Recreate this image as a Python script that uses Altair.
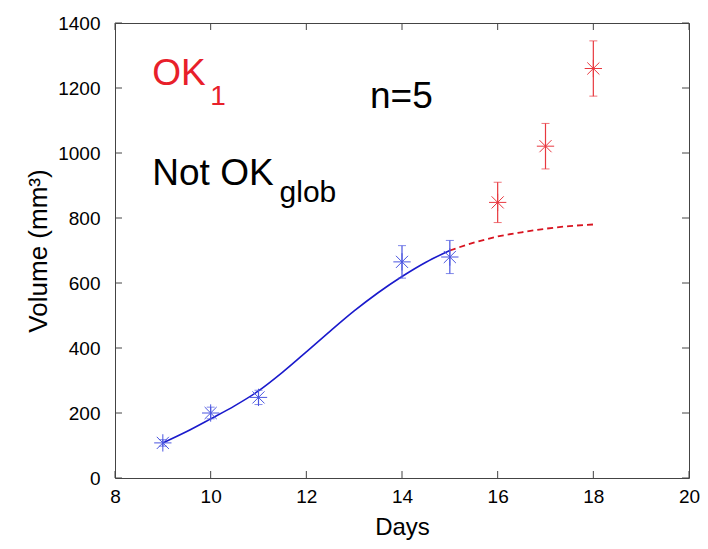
import altair as alt
import pandas as pd

# ---- data ----
blue_days = [9, 10, 11, 14, 15]
blue_vol = [108, 200, 248, 665, 680]
blue_err = [10, 18, 22, 50, 51]

red_days = [16, 17, 18]
red_vol = [848, 1021, 1260]
red_err = [62, 70, 85]

fit_days = [9, 9.5, 10, 10.5, 11, 11.5, 12, 12.5, 13, 13.5, 14, 14.5, 15]
fit_vol = [108, 143, 182, 222, 268, 325, 388, 452, 514, 570, 620, 664, 700]

pred_days = [15, 15.5, 16, 16.5, 17, 17.5, 18]
pred_vol = [700, 724, 743, 756, 767, 775, 780]

x_ticks = [8, 10, 12, 14, 16, 18, 20]
y_ticks = [0, 200, 400, 600, 800, 1000, 1200, 1400]

ann_text = ["OK", "1", "n=5", "Not OK", "glob"]
ann_x = [8.78, 9.99, 13.33, 8.78, 11.44]
ann_y = [1208, 1148, 1138, 903, 848]
ann_color = ["#e8202a", "#e8202a", "black", "black", "black"]
ann_size = [37, 28, 37, 37, 30]

W, H = 574, 455
FONT = "Liberation Sans"
STAR = "M-1,0L1,0M0,-1L0,1M-0.7,-0.7L0.7,0.7M-0.7,0.7L0.7,-0.7"

blue = pd.DataFrame({"d": blue_days, "v": blue_vol,
                     "lo": [v - e for v, e in zip(blue_vol, blue_err)],
                     "hi": [v + e for v, e in zip(blue_vol, blue_err)]})
red = pd.DataFrame({"d": red_days, "v": red_vol,
                    "lo": [v - e for v, e in zip(red_vol, red_err)],
                    "hi": [v + e for v, e in zip(red_vol, red_err)]})
fit = pd.DataFrame({"d": fit_days, "v": fit_vol})
pred = pd.DataFrame({"d": pred_days, "v": pred_vol})
ann = pd.DataFrame({"t": ann_text, "d": ann_x, "v": ann_y,
                    "c": ann_color, "s": ann_size})
xt = pd.DataFrame({"d": x_ticks})
yt = pd.DataFrame({"v": y_ticks})

xs = alt.Scale(domain=[8, 20], nice=False, zero=False)
ys = alt.Scale(domain=[0, 1400], nice=False)

X = alt.X("d:Q", scale=xs,
          axis=alt.Axis(values=x_ticks, ticks=False, domain=False, grid=False,
                        title="Days", labelFontSize=19, titleFontSize=24,
                        labelFont=FONT, titleFont=FONT, labelColor="black",
                        titleColor="black", titleFontWeight="normal",
                        labelPadding=9, titlePadding=9, labelFlush=False))
Y = alt.Y("v:Q", scale=ys,
          axis=alt.Axis(values=y_ticks, format="d", ticks=False, domain=False,
                        grid=False, title="Volume (mm³)", labelFontSize=19,
                        titleFontSize=26, labelFont=FONT, titleFont=FONT,
                        labelColor="black", titleColor="black",
                        titleFontWeight="normal", labelPadding=15,
                        titlePadding=6, labelFlush=False))

fit_line = alt.Chart(fit).mark_line(color="#1a1acc", strokeWidth=1.6,
                                    interpolate="monotone").encode(x=X, y=Y)
pred_line = alt.Chart(pred).mark_line(color="#d81420", strokeWidth=1.8,
                                      strokeDash=[6, 4],
                                      interpolate="monotone").encode(x="d:Q", y="v:Q")

def err_layers(df, color):
    bar = alt.Chart(df).mark_rule(color=color, strokeWidth=1.2).encode(
        x="d:Q", y="lo:Q", y2="hi:Q")
    cap_lo = alt.Chart(df).mark_tick(color=color, orient="horizontal",
                                     size=8, thickness=1).encode(x="d:Q", y="lo:Q")
    cap_hi = alt.Chart(df).mark_tick(color=color, orient="horizontal",
                                     size=8, thickness=1).encode(x="d:Q", y="hi:Q")
    pts = alt.Chart(df).mark_point(shape=STAR, size=300, filled=False,
                                   color=color, strokeWidth=1, opacity=1).encode(
        x="d:Q", y="v:Q")
    return [bar, cap_lo, cap_hi, pts]

blue_layers = err_layers(blue, "#4a55e0")
red_layers = err_layers(red, "#e8383f")

texts = alt.Chart(ann).mark_text(align="left", baseline="alphabetic",
                                 font=FONT).encode(
    x="d:Q", y="v:Q", text="t:N",
    color=alt.Color("c:N", scale=None),
    size=alt.Size("s:Q", scale=None))

TICK = 7
FRAME = "#444444"
tick_bottom = alt.Chart(xt).mark_rule(color=FRAME).encode(
    x="d:Q", y=alt.value(H), y2=alt.value(H - TICK))
tick_top = alt.Chart(xt).mark_rule(color=FRAME).encode(
    x="d:Q", y=alt.value(0), y2=alt.value(TICK))
tick_left = alt.Chart(yt).mark_rule(color=FRAME).encode(
    y="v:Q", x=alt.value(0), x2=alt.value(TICK))
tick_right = alt.Chart(yt).mark_rule(color=FRAME).encode(
    y="v:Q", x=alt.value(W), x2=alt.value(W - TICK))

chart = alt.layer(
    fit_line, pred_line, *blue_layers, *red_layers, texts,
    tick_bottom, tick_top, tick_left, tick_right
).properties(
    width=W, height=H,
    autosize=alt.AutoSizeParams(type="none"),
    padding={"left": 107, "top": 15, "right": 11, "bottom": 63},
    background="white"
).configure_view(stroke=FRAME, strokeWidth=1)

chart.save("out.html", embed_options={"renderer": "svg", "actions": False})
